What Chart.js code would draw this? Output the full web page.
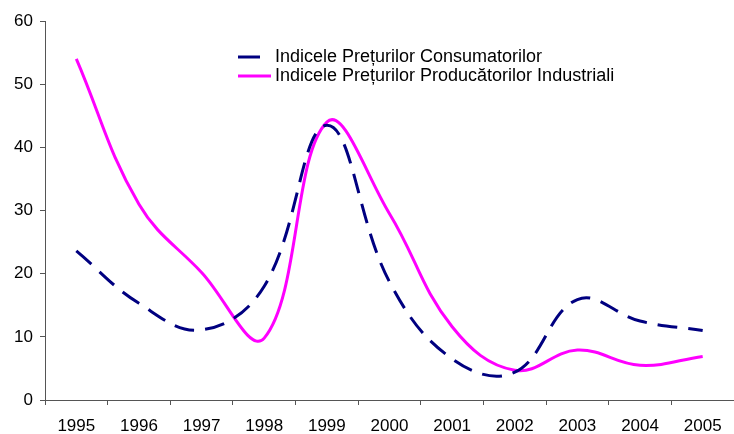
<!DOCTYPE html>
<html lang="ro">
<head>
    <meta charset="UTF-8">
    <title>IPC si IPPI</title>
    <script src="https://cdn.jsdelivr.net/npm/chart.js@4.4.0/dist/chart.umd.min.js"></script>
    <style>
        html, body { margin:0; padding:0; background:#fff; }
        #board { width:734px; height:434px; }
    </style>
</head>
<body>
    <div id="board">
        <canvas id="chart1" width="734" height="434"></canvas>
    </div>
<script>
    // ani
    const years = ['1995','1996','1997','1998','1999','2000','2001','2002','2003','2004','2005'];
    // Indicele Preturilor Consumatorilor (linie punctata)
    const ipc = [23.6, 15.3, 11.1, 18.0, 43.5, 18.7, 6.5, 4.4, 15.9, 12.5, 11.0];
    // Indicele Preturilor Producatorilor Industriali
    const ippi = [54.0, 31.0, 20.2, 9.8, 44.0, 29.5, 11.6, 4.7, 7.9, 5.5, 6.9];
    const yMin = 0, yMax = 60, yStep = 10;

    const FONT = '"Liberation Sans", Arial, sans-serif';

    // legenda desenata in interiorul graficului
    const insideLegend = {
        id: 'insideLegend',
        afterDatasetsDraw(chart) {
            const ctx = chart.ctx;
            ctx.save();
            ctx.font = '18px ' + FONT;
            ctx.textBaseline = 'middle';
            ctx.fillStyle = '#000';
            chart.data.datasets.forEach((ds, i) => {
                const y = 57 + i * 19;
                ctx.strokeStyle = ds.borderColor;
                ctx.lineWidth = 3;
                ctx.setLineDash([]);
                ctx.beginPath();
                ctx.moveTo(238, y);
                ctx.lineTo(i === 0 ? 260 : 271, y);
                ctx.stroke();
                ctx.fillText(ds.label, 275, y);
            });
            ctx.restore();
        }
    };

    const ctx = document.getElementById('chart1').getContext('2d');
    new Chart(ctx, {
        type: 'line',
        data: {
            labels: years,
            datasets: [{
                label: 'Indicele Prețurilor Consumatorilor',
                data: ipc,
                borderColor: '#000080',
                borderWidth: 3,
                borderDash: [20, 11],
                pointRadius: 0,
                tension: 0.4,
                fill: false
            }, {
                label: 'Indicele Prețurilor Producătorilor Industriali',
                data: ippi,
                borderColor: '#ff00ff',
                borderWidth: 3,
                pointRadius: 0,
                tension: 0.4,
                fill: false
            }]
        },
        options: {
            responsive: false,
            animation: false,
            devicePixelRatio: 1,
            layout: { padding: { top: 21, right: 0, left: 0, bottom: 0 } },
            plugins: {
                legend: { display: false },
                tooltip: { enabled: false }
            },
            scales: {
                x: {
                    offset: true,
                    grid: { offset: true, drawOnChartArea: false, tickLength: 5, color: '#555' },
                    border: { color: '#555' },
                    ticks: { color: '#000', font: { size: 17, family: FONT }, padding: 11, maxRotation: 0, autoSkip: false },
                    afterFit(s) { s.height = 34; }
                },
                y: {
                    min: yMin,
                    max: yMax,
                    grid: { drawOnChartArea: false, tickLength: 5, color: '#555' },
                    border: { color: '#555' },
                    ticks: { stepSize: yStep, color: '#000', font: { size: 17, family: FONT }, padding: 7 },
                    afterFit(s) { s.width = 45; }
                }
            }
        },
        plugins: [insideLegend]
    });
</script>
</body>
</html>
